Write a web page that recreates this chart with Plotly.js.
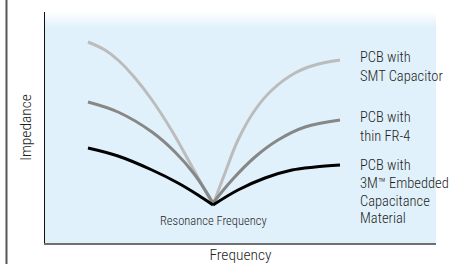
<!DOCTYPE html>
<html>
<head>
<meta charset="utf-8">
<script src="https://cdn.plot.ly/plotly-3.0.1.min.js"></script>
<style>html,body{margin:0;padding:0;background:#fff;}#chart{width:465px;height:264px;}</style>
</head>
<body>
<div id="chart"></div>
<script>
// Frequency / impedance values (arbitrary units)
var smtLeftFreq = [43, 60, 73, 90, 107, 127, 145, 168];
var smtLeftImp  = [201, 193, 183, 165, 143, 112, 80, 38];
var smtRightFreq = [168, 180, 193, 210, 227, 250, 270, 295];
var smtRightImp  = [38, 70, 103, 133, 153, 170, 178, 183];

var fr4LeftFreq = [43, 73, 107, 130, 150, 168];
var fr4LeftImp  = [141, 131, 111, 91, 68, 40];
var fr4RightFreq = [168, 187, 210, 233, 260, 295];
var fr4RightImp  = [40, 63, 86, 103, 116, 123];

var ecmLeftFreq = [43, 73, 107, 133, 153, 168];
var ecmLeftImp  = [95, 87, 73, 60, 48, 38];
var ecmRightFreq = [168, 193, 220, 247, 270, 295];
var ecmRightImp  = [38, 53, 65, 73, 76, 78];

var labelLines = ['PCB with', 'SMT Capacitor', 'PCB with', 'thin FR-4',
                  'PCB with', '3M\u2122 Embedded', 'Capacitance', 'Material'];
var labelImp = [186, 167, 126, 107, 78, 60, 42, 25];
var resonanceLabel = 'Resonance Frequency';

var FONT = '"Liberation Sans Narrow", "Arial Narrow", "Roboto Condensed", Roboto, sans-serif';
var TXT = '#1e1e1e';
var colors = ['#bcbcbc', '#878787', '#000000'];

function branch(x, y, c) {
  return {x: x, y: y, type: 'scatter', mode: 'lines', showlegend: false,
          line: {color: c, width: 3, shape: 'spline', smoothing: 1}, hoverinfo: 'skip'};
}

var traces = [
  // top fade of the background
  {x: [0, 391, 391, 0, 0], y: [231, 231, 216, 216, 231], type: 'scatter', mode: 'none',
   fill: 'toself', showlegend: false, hoverinfo: 'skip',
   fillgradient: {type: 'vertical', colorscale: [[0, '#e1f1fb'], [1, '#ffffff']]}},
  branch(smtLeftFreq, smtLeftImp, colors[0]),
  branch(smtRightFreq, smtRightImp, colors[0]),
  branch(fr4LeftFreq, fr4LeftImp, colors[1]),
  branch(fr4RightFreq, fr4RightImp, colors[1]),
  branch(ecmLeftFreq, ecmLeftImp, colors[2]),
  branch(ecmRightFreq, ecmRightImp, colors[2])
];

var annotations = labelLines.map(function (t, i) {
  return {text: t, x: 313, y: labelImp[i], xref: 'x', yref: 'y', xanchor: 'left', yanchor: 'middle',
          align: 'left', showarrow: false, font: {family: FONT, size: 14.5, color: TXT, weight: 300}};
});
annotations.push({text: resonanceLabel, x: 168.5, y: 23, xref: 'x', yref: 'y', xanchor: 'center', yanchor: 'middle',
                  showarrow: false, font: {family: FONT, size: 12.5, color: TXT, weight: 300}});

var layout = {
  width: 465, height: 264,
  margin: {l: 45, r: 29, t: 12, b: 21},
  paper_bgcolor: '#ffffff',
  plot_bgcolor: '#e1f1fb',
  font: {family: FONT, color: TXT},
  showlegend: false,
  xaxis: {range: [0, 391], showgrid: false, zeroline: false, showticklabels: false, ticks: '',
          showline: true, linecolor: '#707070', linewidth: 2,
          title: {text: 'Frequency', font: {family: FONT, size: 15.5, color: TXT, weight: 300}, standoff: 7}},
  yaxis: {range: [0, 231], showgrid: false, zeroline: false, showticklabels: false, ticks: '',
          showline: true, linecolor: '#111', linewidth: 1.2,
          title: {text: 'Impedance', font: {family: FONT, size: 15.5, color: TXT, weight: 300}, standoff: 8}},
  annotations: annotations,
  shapes: [{type: 'line', xref: 'paper', yref: 'paper', x0: -0.0985, x1: -0.0985, y0: -0.1, y1: 1.06,
            line: {color: '#555', width: 2}}]
};

Plotly.newPlot('chart', traces, layout, {displayModeBar: false, staticPlot: true});
</script>
</body>
</html>
